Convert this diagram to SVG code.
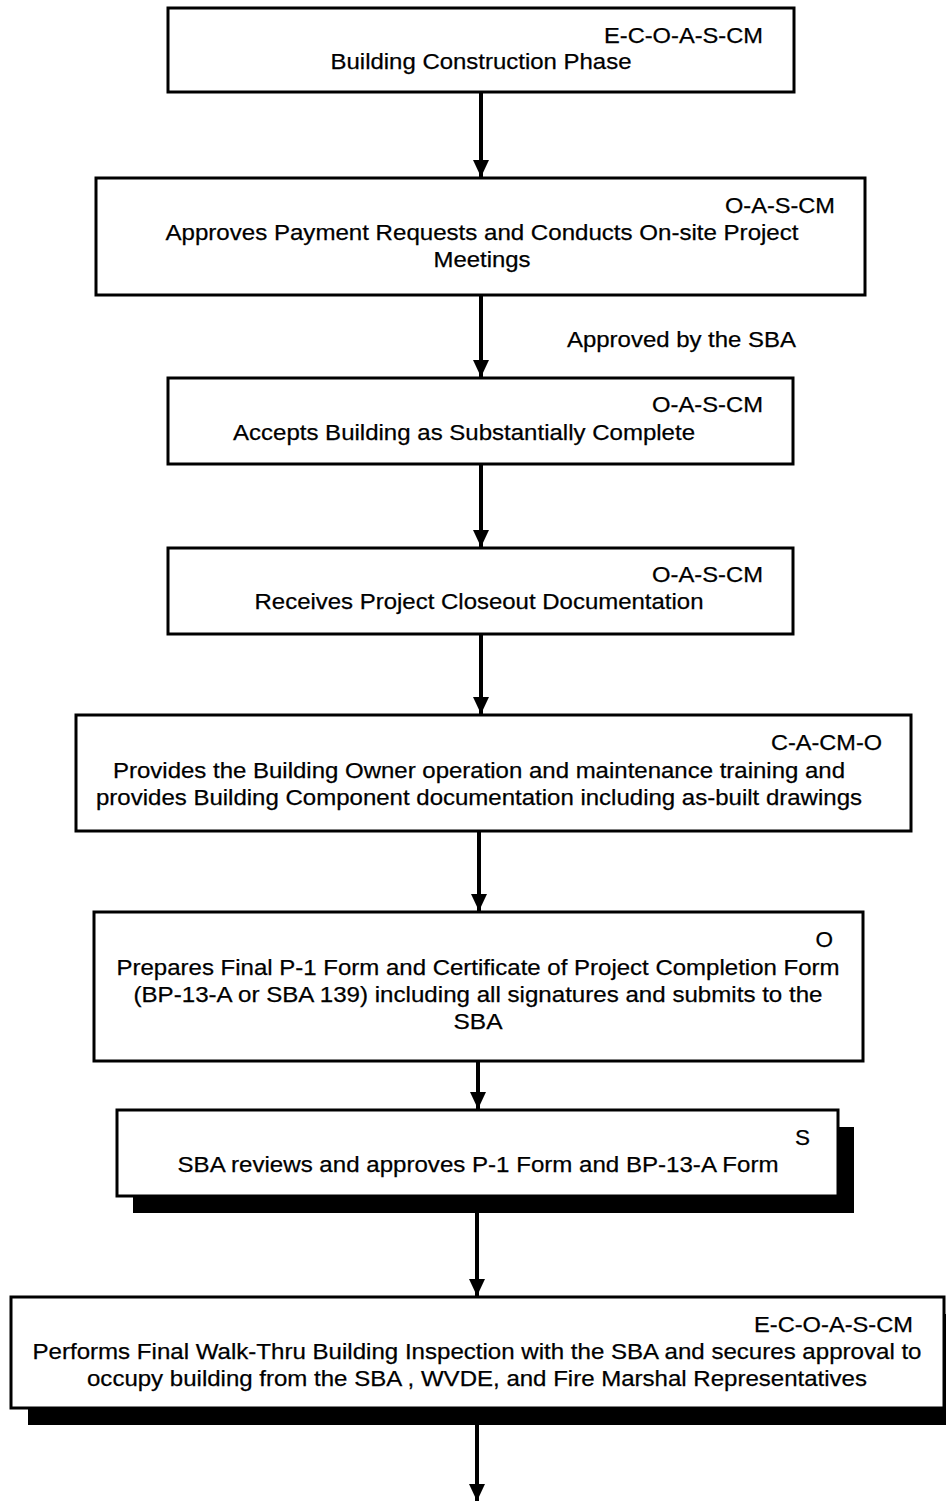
<svg xmlns="http://www.w3.org/2000/svg" width="946" height="1503" viewBox="0 0 946 1503">
<style>
.box{fill:#fff;stroke:#000;stroke-width:3}
.sh{fill:#000}
text{font-family:"Liberation Sans",Arial,sans-serif;font-size:22.5px;fill:#000;stroke:#000;stroke-width:0.25}
.c{text-anchor:middle}
.r{text-anchor:end}
.ln{stroke:#000;stroke-width:4;fill:none}
</style>
<defs>
<marker id="ah2" markerUnits="userSpaceOnUse" markerWidth="17" markerHeight="16" refX="17" refY="8" orient="auto" viewBox="0 0 17 16">
<path d="M0,0 L17,8 L0,16 Z" fill="#000"/>
</marker>
</defs>
<g id="connectors">
<line class="ln" x1="481" y1="92" x2="481" y2="177" marker-end="url(#ah2)"/>
<line class="ln" x1="481" y1="295" x2="481" y2="377" marker-end="url(#ah2)"/>
<line class="ln" x1="481" y1="464" x2="481" y2="547" marker-end="url(#ah2)"/>
<line class="ln" x1="481" y1="634" x2="481" y2="714" marker-end="url(#ah2)"/>
<line class="ln" x1="479" y1="831" x2="479" y2="911" marker-end="url(#ah2)"/>
<line class="ln" x1="478" y1="1061" x2="478" y2="1109" marker-end="url(#ah2)"/>
<line class="ln" x1="477" y1="1213" x2="477" y2="1296" marker-end="url(#ah2)"/>
<line class="ln" x1="477" y1="1425" x2="477" y2="1501" marker-end="url(#ah2)"/>
<text x="567" y="347" textLength="229" lengthAdjust="spacingAndGlyphs">Approved by the SBA</text>
</g>
<g id="n1">
<rect class="box" x="168" y="8" width="626" height="84"/>
<text class="r" x="763" y="43" textLength="159" lengthAdjust="spacingAndGlyphs">E-C-O-A-S-CM</text>
<text class="c" x="481" y="69" textLength="301" lengthAdjust="spacingAndGlyphs">Building Construction Phase</text>
</g>
<g id="n2">
<rect class="box" x="96" y="178" width="769" height="117"/>
<text class="r" x="835" y="213" textLength="110" lengthAdjust="spacingAndGlyphs">O-A-S-CM</text>
<text class="c" x="482" y="240" textLength="633" lengthAdjust="spacingAndGlyphs">Approves Payment Requests and Conducts On-site Project</text>
<text class="c" x="482" y="267" textLength="97" lengthAdjust="spacingAndGlyphs">Meetings</text>
</g>
<g id="n3">
<rect class="box" x="168" y="378" width="625" height="86"/>
<text class="r" x="763" y="412" textLength="111" lengthAdjust="spacingAndGlyphs">O-A-S-CM</text>
<text class="c" x="464" y="440" textLength="462" lengthAdjust="spacingAndGlyphs">Accepts Building as Substantially Complete</text>
</g>
<g id="n4">
<rect class="box" x="168" y="548" width="625" height="86"/>
<text class="r" x="763" y="582" textLength="111" lengthAdjust="spacingAndGlyphs">O-A-S-CM</text>
<text class="c" x="479" y="609" textLength="449" lengthAdjust="spacingAndGlyphs">Receives Project Closeout Documentation</text>
</g>
<g id="n5">
<rect class="box" x="76" y="715" width="835" height="116"/>
<text class="r" x="882" y="750" textLength="111" lengthAdjust="spacingAndGlyphs">C-A-CM-O</text>
<text class="c" x="479" y="778" textLength="732" lengthAdjust="spacingAndGlyphs">Provides the Building Owner operation and maintenance training and</text>
<text class="c" x="479" y="805" textLength="766" lengthAdjust="spacingAndGlyphs">provides Building Component documentation including as-built drawings</text>
</g>
<g id="n6">
<rect class="box" x="94" y="912" width="769" height="149"/>
<text class="r" x="833" y="947">O</text>
<text class="c" x="478" y="975" textLength="723" lengthAdjust="spacingAndGlyphs">Prepares Final P-1 Form and Certificate of Project Completion Form</text>
<text class="c" x="478" y="1002" textLength="689" lengthAdjust="spacingAndGlyphs">(BP-13-A or SBA 139) including all signatures and submits to the</text>
<text class="c" x="478" y="1029" textLength="49" lengthAdjust="spacingAndGlyphs">SBA</text>
</g>
<g id="n7">
<rect class="sh" x="133" y="1127" width="721" height="86"/>
<rect class="box" x="117" y="1110" width="721" height="86"/>
<text class="r" x="810" y="1145">S</text>
<text class="c" x="478" y="1172" textLength="601" lengthAdjust="spacingAndGlyphs">SBA reviews and approves P-1 Form and BP-13-A Form</text>
</g>
<g id="n8">
<rect class="sh" x="28" y="1314" width="920" height="111"/>
<rect class="box" x="11" y="1297" width="933" height="111"/>
<text class="r" x="913" y="1332" textLength="159" lengthAdjust="spacingAndGlyphs">E-C-O-A-S-CM</text>
<text class="c" x="477" y="1359" textLength="889" lengthAdjust="spacingAndGlyphs">Performs Final Walk-Thru Building Inspection with the SBA and secures approval to</text>
<text class="c" x="477" y="1386" textLength="780" lengthAdjust="spacingAndGlyphs">occupy building from the SBA , WVDE, and Fire Marshal Representatives</text>
</g>
</svg>
